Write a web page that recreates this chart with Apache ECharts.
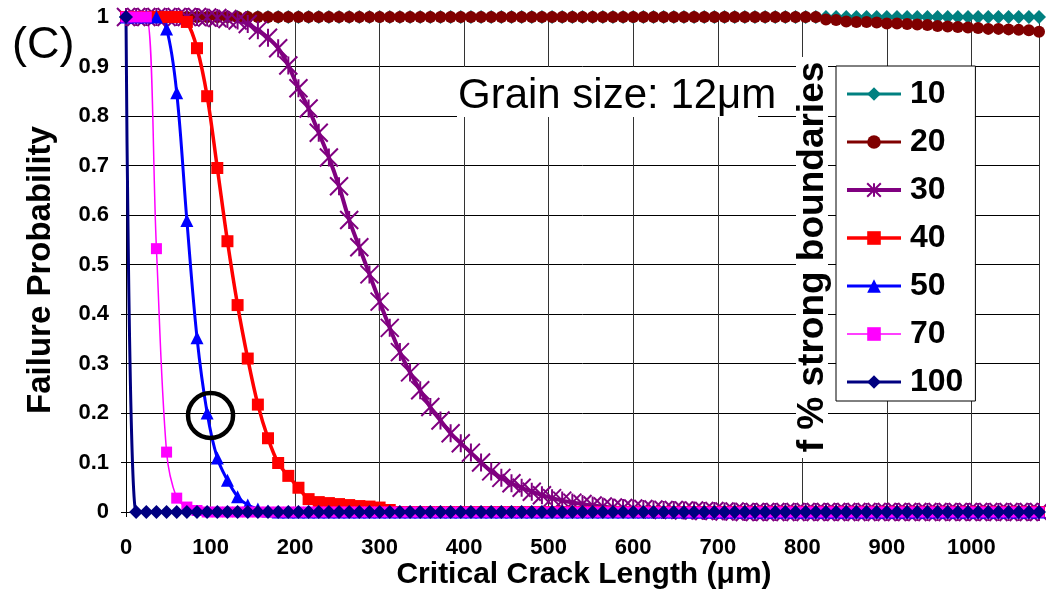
<!DOCTYPE html>
<html>
<head>
<meta charset="utf-8">
<title>Failure probability vs critical crack length</title>
<script src="https://cdn.jsdelivr.net/npm/echarts@6/dist/echarts.min.js"></script>
<style>
  html, body { margin: 0; padding: 0; background: #fff; }
  #chart { width: 1046px; height: 591px; }
</style>
</head>
<body>
<div id="chart"></div>
<script>
// Critical crack length (µm), sampled every grain diameter (12 µm)
const crackLength = [
  0, 12, 24, 36, 48, 60, 72, 84, 96, 108,
  120, 132, 144, 156, 168, 180, 192, 204, 216, 228,
  240, 252, 264, 276, 288, 300, 312, 324, 336, 348,
  360, 372, 384, 396, 408, 420, 432, 444, 456, 468,
  480, 492, 504, 516, 528, 540, 552, 564, 576, 588,
  600, 612, 624, 636, 648, 660, 672, 684, 696, 708,
  720, 732, 744, 756, 768, 780, 792, 804, 816, 828,
  840, 852, 864, 876, 888, 900, 912, 924, 936, 948,
  960, 972, 984, 996, 1008, 1020, 1032, 1044, 1056, 1068,
  1080
];

// Failure probability for each fraction f (%) of strong boundaries
const fail10 = [
  1, 1, 1, 1, 1, 1, 1, 1, 1, 1,
  1, 1, 1, 1, 1, 1, 1, 1, 1, 1,
  1, 1, 1, 1, 1, 1, 1, 1, 1, 1,
  1, 1, 1, 1, 1, 1, 1, 1, 1, 1,
  1, 1, 1, 1, 1, 1, 1, 1, 1, 1,
  1, 1, 1, 1, 1, 1, 1, 1, 1, 1,
  1, 1, 1, 1, 1, 1, 1, 1, 1, 1,
  1, 1, 1, 1, 1, 1, 1, 1, 1, 1,
  1, 1, 1, 1, 1, 1, 1, 1, 1, 1,
  1
];
const fail20 = [
  1, 1, 1, 1, 1, 1, 1, 1, 1, 1,
  1, 1, 1, 1, 1, 1, 1, 1, 1, 1,
  1, 1, 1, 1, 1, 1, 1, 1, 1, 1,
  1, 1, 1, 1, 1, 1, 1, 1, 1, 1,
  1, 1, 1, 1, 1, 1, 1, 1, 1, 1,
  1, 1, 1, 1, 1, 1, 1, 1, 1, 1,
  1, 1, 1, 1, 1, 1, 1, 1, 1, 0.995,
  0.994, 0.991, 0.990, 0.990, 0.989, 0.987, 0.987, 0.986, 0.985, 0.984,
  0.982, 0.981, 0.980, 0.979, 0.978, 0.976, 0.976, 0.975, 0.974, 0.973,
  0.970
];
const fail30 = [
  1, 1, 1, 1, 1, 1, 1, 1, 0.999, 0.998,
  0.996, 0.993, 0.986, 0.973, 0.958, 0.937, 0.902, 0.856, 0.815, 0.766,
  0.716, 0.658, 0.590, 0.535, 0.480, 0.425, 0.372, 0.323, 0.282, 0.246,
  0.212, 0.185, 0.159, 0.139, 0.120, 0.100, 0.082, 0.069, 0.058, 0.049,
  0.041, 0.034, 0.028, 0.023, 0.019, 0.016, 0.013, 0.011, 0.009, 0.008,
  0.007, 0.006, 0.005, 0.004, 0.004, 0.003, 0.003, 0.002, 0.002, 0.001,
  0.001, 0, 0, 0, 0, 0, 0, 0, 0, 0,
  0, 0, 0, 0, 0, 0, 0, 0, 0, 0,
  0, 0, 0, 0, 0, 0, 0, 0, 0, 0,
  0
];
const fail40 = [
  1, 1, 1, 1, 1, 1, 0.99, 0.937, 0.84, 0.695,
  0.547, 0.418, 0.31, 0.217, 0.149, 0.099, 0.073, 0.049, 0.026, 0.02,
  0.018, 0.016, 0.014, 0.012, 0.011, 0.009, 0.004, 0, 0, 0,
  0, 0, 0, 0, 0, 0, 0, 0, 0, 0,
  0, 0, 0, 0, 0, 0, 0, 0, 0, 0,
  0, 0, 0, 0, 0, 0, 0, 0, 0, 0,
  0, 0, 0, 0, 0, 0, 0, 0, 0, 0,
  0, 0, 0, 0, 0, 0, 0, 0, 0, 0,
  0, 0, 0, 0, 0, 0, 0, 0, 0, 0,
  0
];
const fail50 = [
  1, 1, 1, 1, 0.976, 0.847, 0.589, 0.352, 0.2, 0.109,
  0.064, 0.031, 0.014, 0.006, 0.002, 0, 0, 0, 0, 0,
  0, 0, 0, 0, 0, 0, 0, 0, 0, 0,
  0, 0, 0, 0, 0, 0, 0, 0, 0, 0,
  0, 0, 0, 0, 0, 0, 0, 0, 0, 0,
  0, 0, 0, 0, 0, 0, 0, 0, 0, 0,
  0, 0, 0, 0, 0, 0, 0, 0, 0, 0,
  0, 0, 0, 0, 0, 0, 0, 0, 0, 0,
  0, 0, 0, 0, 0, 0, 0, 0, 0, 0,
  0
];
const fail70 = [
  1, 1, 1, 0.532, 0.121, 0.028, 0.01, 0.003, 0, 0,
  0, 0, 0, 0, 0, 0, 0, 0, 0, 0,
  0, 0, 0, 0, 0, 0, 0, 0, 0, 0,
  0, 0, 0, 0, 0, 0, 0, 0, 0, 0,
  0, 0, 0, 0, 0, 0, 0, 0, 0, 0,
  0, 0, 0, 0, 0, 0, 0, 0, 0, 0,
  0, 0, 0, 0, 0, 0, 0, 0, 0, 0,
  0, 0, 0, 0, 0, 0, 0, 0, 0, 0,
  0, 0, 0, 0, 0, 0, 0, 0, 0, 0,
  0
];
const fail100 = [
  1, 0, 0, 0, 0, 0, 0, 0, 0, 0,
  0, 0, 0, 0, 0, 0, 0, 0, 0, 0,
  0, 0, 0, 0, 0, 0, 0, 0, 0, 0,
  0, 0, 0, 0, 0, 0, 0, 0, 0, 0,
  0, 0, 0, 0, 0, 0, 0, 0, 0, 0,
  0, 0, 0, 0, 0, 0, 0, 0, 0, 0,
  0, 0, 0, 0, 0, 0, 0, 0, 0, 0,
  0, 0, 0, 0, 0, 0, 0, 0, 0, 0,
  0, 0, 0, 0, 0, 0, 0, 0, 0, 0,
  0
];

const seriesNames = ['10', '20', '30', '40', '50', '70', '100'];
const seriesValues = [fail10, fail20, fail30, fail40, fail50, fail70, fail100];

// Point singled out with a ring (f = 50 %, 100 µm)
const ringedPoint = [100, 0.195];

const FONT = '"Liberation Sans", Arial, Helvetica, sans-serif';
const STAR = 'path://M0,0L12,12M12,0L0,12M6,0L6,12';

const seriesStyle = [
  { color: '#008080', symbol: 'diamond',  symbolSize: 14, width: 3 },
  { color: '#800000', symbol: 'circle',   symbolSize: 12, width: 3 },
  { color: '#800080', symbol: STAR,       symbolSize: 18, width: 4, stroke: true },
  { color: '#FF0000', symbol: 'rect',     symbolSize: 12, width: 3.5 },
  { color: '#0000FF', symbol: 'triangle', symbolSize: 13, width: 3 },
  { color: '#FF00FF', symbol: 'rect',     symbolSize: 11, width: 1.5 },
  { color: '#000080', symbol: 'diamond',  symbolSize: 14, width: 3 }
];

const pair = ys => crackLength.map((x, i) => [x, ys[i]]);

const lineSeries = seriesNames.map((name, k) => {
  const st = seriesStyle[k];
  return {
    name: name,
    type: 'line',
    data: pair(seriesValues[k]),
    color: st.color,
    smooth: 0.35,
    symbol: st.symbol,
    symbolSize: st.symbolSize,
    showSymbol: true,
    lineStyle: { width: st.width, color: st.color },
    itemStyle: st.stroke
      ? { color: st.color, borderColor: st.color, borderWidth: 2 }
      : { color: st.color, borderWidth: 0 },
    emphasis: { disabled: true },
    animation: false
  };
});

const ringSeries = {
  name: 'ring',
  type: 'scatter',
  data: [ringedPoint],
  symbol: 'circle',
  symbolSize: 45,
  itemStyle: { color: 'rgba(0,0,0,0)', borderColor: '#000', borderWidth: 4.5, opacity: 1 },
  z: 10,
  silent: true,
  animation: false
};

const chart = echarts.init(document.getElementById('chart'), null, { renderer: 'canvas' });

chart.setOption({
  backgroundColor: '#fff',
  animation: false,
  textStyle: { fontFamily: FONT },
  grid: { left: 126, right: 7, top: 17, bottom: 79, containLabel: false },
  xAxis: {
    type: 'value',
    min: 0, max: 1080, interval: 100,
    axisLine: { show: true, lineStyle: { color: '#000', width: 1 } },
    axisTick: { show: true, length: 5, lineStyle: { color: '#000' } },
    axisLabel: {
      color: '#000', fontSize: 22, fontWeight: 'bold', fontFamily: FONT,
      margin: 25, showMaxLabel: false,
      formatter: v => String(v)
    },
    splitLine: { show: true, lineStyle: { color: '#333', width: 1 } }
  },
  yAxis: {
    type: 'value',
    min: 0, max: 1, interval: 0.1,
    axisLine: { show: true, lineStyle: { color: '#000', width: 1 } },
    axisTick: { show: true, length: 5, lineStyle: { color: '#000' } },
    axisLabel: {
      color: '#000', fontSize: 22, fontWeight: 'bold', fontFamily: FONT, margin: 17
    },
    splitLine: { show: true, lineStyle: { color: '#000', width: 1 } }
  },
  legend: {
    orient: 'vertical',
    left: 836, top: 66,
    padding: [11, 12, 2, 9],
    itemGap: 14,
    itemWidth: 54,
    itemHeight: 17,
    backgroundColor: '#fff',
    borderColor: '#000',
    borderWidth: 1,
    selectedMode: false,
    lineStyle: { width: 'inherit' },
    textStyle: {
      fontSize: 32, fontWeight: 'bold', color: '#000', fontFamily: FONT,
      lineHeight: 34, padding: [0, 0, 0, 4]
    },
    data: seriesNames
  },
  graphic: [
    { type: 'rect', z: 1, shape: { x: 457, y: 67, width: 301, height: 50 }, style: { fill: '#fff' } },
    { type: 'text', z: 1, z2: 10, style: {
        x: 458, y: 96, text: 'Grain size: 12μm', fill: '#000',
        font: '42px ' + FONT, align: 'left', verticalAlign: 'middle' } },
    { type: 'rect', z: 1, shape: { x: 796, y: 57, width: 32, height: 401 }, style: { fill: '#fff' } },
    { type: 'text', z: 1, z2: 10, x: 813, y: 257, rotation: Math.PI / 2, style: {
        x: 0, y: 0, text: 'f % strong boundaries', fill: '#000',
        font: 'bold 37px ' + FONT, align: 'center', verticalAlign: 'middle' } },
    { type: 'text', z: 1, x: 41, y: 270, rotation: Math.PI / 2, style: {
        x: 0, y: 0, text: 'Failure Probability', fill: '#000',
        font: 'bold 33px ' + FONT, align: 'center', verticalAlign: 'middle' } },
    { type: 'text', z: 1, style: {
        x: 584, y: 575, text: 'Critical Crack Length (μm)', fill: '#000',
        font: 'bold 30px ' + FONT, align: 'center', verticalAlign: 'middle' } },
    { type: 'text', z: 1, style: {
        x: 12, y: 46, text: '(C)', fill: '#000',
        font: '45px ' + FONT, align: 'left', verticalAlign: 'middle' } }
  ],
  series: lineSeries.concat([ringSeries])
});
</script>
</body>
</html>
